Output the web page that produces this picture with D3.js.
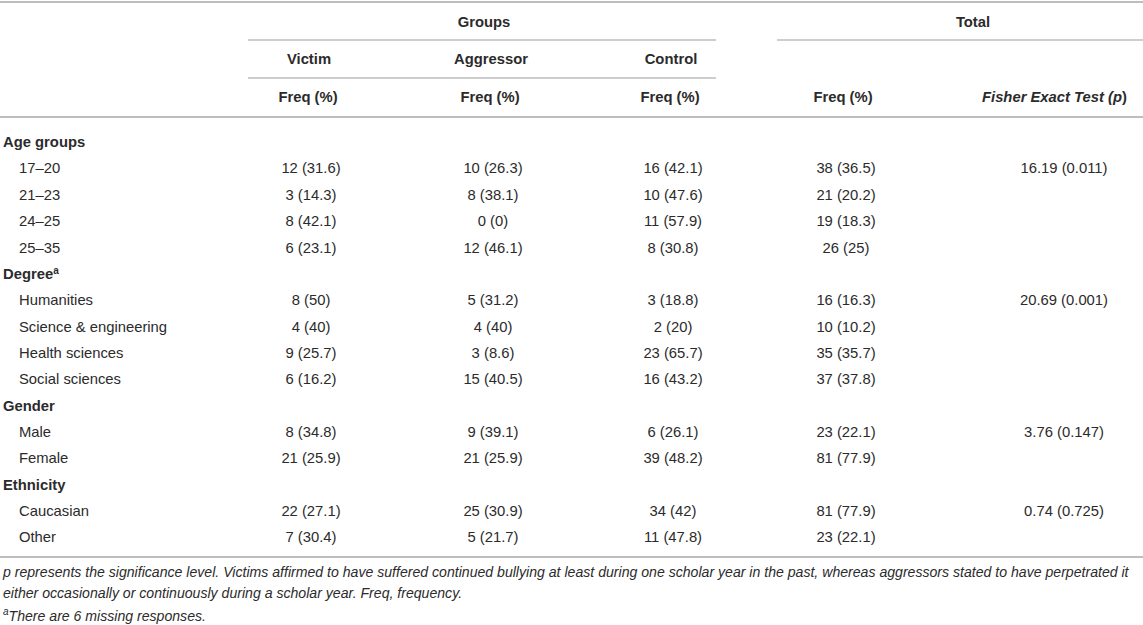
<!DOCTYPE html>
<html>
<head>
<meta charset="utf-8">
<script src="https://cdn.jsdelivr.net/npm/d3@7"></script>
<style>
  html, body { margin: 0; padding: 0; background: #fff; }
  svg { display: block; font-family: "Liberation Sans", Arial, Helvetica, sans-serif; }
</style>
</head>
<body>
<svg id="t" width="1143" height="625"></svg>
<script>
// ---- data ----
const sections = ["Age groups", "Degree", "Gender", "Ethnicity"];
const sectionSizes = [4, 4, 2, 2];
const categories = ["17–20", "21–23", "24–25", "25–35",
  "Humanities", "Science & engineering", "Health sciences", "Social sciences",
  "Male", "Female", "Caucasian", "Other"];
const victimFreq = [12, 3, 8, 6, 8, 4, 9, 6, 8, 21, 22, 7];
const victimPct = [31.6, 14.3, 42.1, 23.1, 50, 40, 25.7, 16.2, 34.8, 25.9, 27.1, 30.4];
const aggressorFreq = [10, 8, 0, 12, 5, 4, 3, 15, 9, 21, 25, 5];
const aggressorPct = [26.3, 38.1, 0, 46.1, 31.2, 40, 8.6, 40.5, 39.1, 25.9, 30.9, 21.7];
const controlFreq = [16, 10, 11, 8, 3, 2, 23, 16, 6, 39, 34, 11];
const controlPct = [42.1, 47.6, 57.9, 30.8, 18.8, 20, 65.7, 43.2, 26.1, 48.2, 42, 47.8];
const totalFreq = [38, 21, 19, 26, 16, 10, 35, 37, 23, 81, 81, 23];
const totalPct = [36.5, 20.2, 18.3, 25, 16.3, 10.2, 35.7, 37.8, 22.1, 77.9, 77.9, 22.1];
const fisherStat = [16.19, 20.69, 3.76, 0.74];
const fisherP = ["0.011", "0.001", "0.147", "0.725"];
const groupHeaders = ["Victim", "Aggressor", "Control"];
const footnotes = [
  "p represents the significance level. Victims affirmed to have suffered continued bullying at least during one scholar year in the past, whereas aggressors stated to have perpetrated it",
  "either occasionally or continuously during a scholar year. Freq, frequency.",
  "There are 6 missing responses."
];

// ---- layout ----
const W = 1143;
const svg = d3.select("#t");
const textColor = "#2b2b2b";
const ruleColor = "#bdbdbd";
const fs = 14.8;

const colKeys = ["victim", "aggressor", "control", "total", "fisher"];
const x = d3.scaleOrdinal().domain(colKeys).range([311, 493, 673, 846, 1064]);

// build rows
const rows = [];
let ci = 0;
sections.forEach((s, si) => {
  rows.push({ type: "section", label: s, sup: s === "Degree" ? "a" : null });
  for (let k = 0; k < sectionSizes[si]; k++, ci++) {
    rows.push({
      type: "item", label: categories[ci],
      victim: `${victimFreq[ci]} (${victimPct[ci]})`,
      aggressor: `${aggressorFreq[ci]} (${aggressorPct[ci]})`,
      control: `${controlFreq[ci]} (${controlPct[ci]})`,
      total: `${totalFreq[ci]} (${totalPct[ci]})`,
      fisher: k === 0 ? `${fisherStat[si]} (${fisherP[si]})` : ""
    });
  }
});

const y = d3.scaleLinear().domain([0, rows.length - 1]).range([141.8, 537]);

function rule(x1, x2, yy, w) {
  svg.append("line").attr("x1", x1).attr("x2", x2).attr("y1", yy).attr("y2", yy)
    .attr("stroke", ruleColor).attr("stroke-width", w);
}

// rules
rule(0, W, 2, 2);
rule(248, 716, 40, 1.5);
rule(777, W, 40, 1.5);
rule(248, 716, 78, 1.5);
rule(0, W, 117, 2);
rule(0, W, 557, 2);

function txt(xx, yy, s, opts = {}) {
  const size = opts.size || fs;
  return svg.append("text").attr("x", xx).attr("y", yy + size * 0.36)
    .attr("text-anchor", opts.anchor || "middle")
    .attr("font-size", size)
    .attr("font-weight", opts.bold ? "bold" : "normal")
    .attr("font-style", opts.italic ? "italic" : "normal")
    .attr("fill", textColor)
    .text(s);
}

// header
txt(484, 22, "Groups", { bold: true });
txt(973, 22, "Total", { bold: true });
groupHeaders.forEach((g, i) => txt(x(colKeys[i]) - 2, 59, g, { bold: true }));
["victim", "aggressor", "control", "total"].forEach(k => txt(x(k) - 3, 97, "Freq (%)", { bold: true }));
const fh = svg.append("text").attr("x", 1127).attr("y", 97 + fs * 0.36)
  .attr("text-anchor", "end").attr("font-size", fs).attr("font-weight", "bold").attr("fill", textColor);
fh.append("tspan").attr("font-style", "italic").text("Fisher Exact Test (");
fh.append("tspan").attr("font-style", "italic").text("p");
fh.append("tspan").text(")");

// body
rows.forEach((r, i) => {
  const yy = y(i);
  if (r.type === "section") {
    const t = txt(3, yy, r.label, { anchor: "start", bold: true });
    if (r.sup) t.append("tspan").attr("font-size", 10).attr("dy", "-0.5em").attr("font-weight", "bold").text(r.sup);
  } else {
    txt(19, yy, r.label, { anchor: "start" });
    colKeys.forEach(k => { if (r[k]) txt(x(k), yy, r[k]); });
  }
});

// footnotes
const fnY = [572, 593, 614];
const fns = 14.1;
footnotes.forEach((f, i) => {
  const t = svg.append("text").attr("x", 3).attr("y", fnY[i] + fns * 0.36)
    .attr("font-size", fns).attr("font-style", "italic").attr("fill", textColor);
  if (i === 2) {
    t.append("tspan").attr("font-size", 10).attr("dy", "-0.45em").text("a");
    t.append("tspan").attr("dy", "0.45em").text(f);
  } else {
    t.text(f);
  }
});
</script>
</body>
</html>
